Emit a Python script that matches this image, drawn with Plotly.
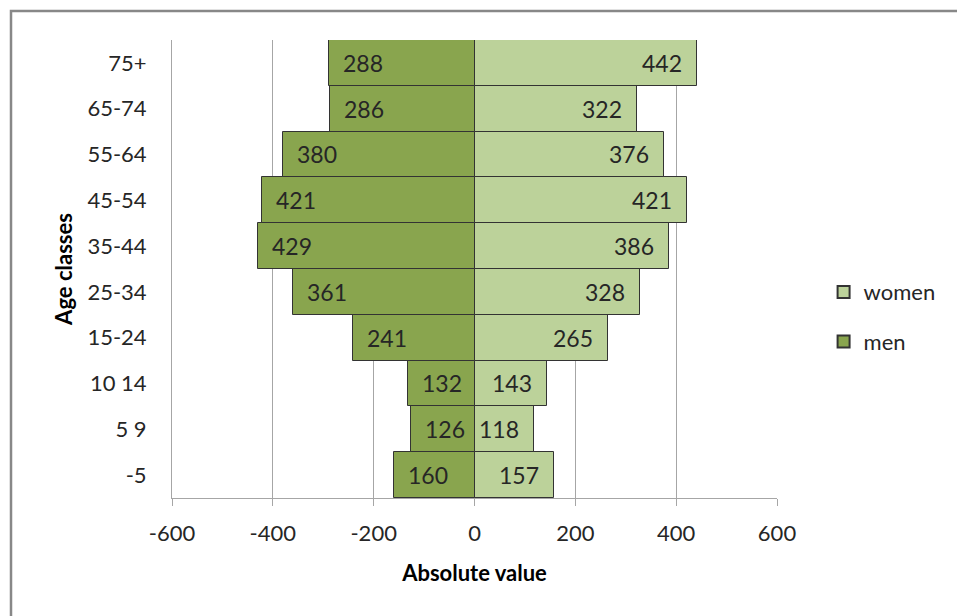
import plotly.graph_objects as go

categories = ["-5", "5 9", "10 14", "15-24", "25-34", "35-44", "45-54", "55-64", "65-74", "75+"]
men = [160, 126, 132, 241, 361, 429, 421, 380, 286, 288]
women = [157, 118, 143, 265, 328, 386, 421, 376, 322, 442]
tick_vals = [-600, -400, -200, 0, 200, 400, 600]
tick_text = ["-600", "-400", "-200", "0", "200", "400", "600"]

FONT = "Lato"
TXT = "#262626"

fig = go.Figure()
fig.add_trace(go.Bar(
    y=categories, x=women, orientation="h", name="women", legendgroup="w",
    marker=dict(color="#BCD29A", line=dict(color="#333333", width=1)),
    text=[str(v) for v in women], texttemplate="%{text}\u2002",
    textposition="inside", insidetextanchor="end",
    textfont=dict(family=FONT, size=23, color=TXT),
))
fig.add_trace(go.Bar(
    y=categories, x=[-v for v in men], orientation="h", name="men", legendgroup="m",
    marker=dict(color="#89A54E", line=dict(color="#333333", width=1)),
    text=[str(v) for v in men], texttemplate="\u2002%{text}",
    textposition="inside", insidetextanchor="end",
    textfont=dict(family=FONT, size=23, color=TXT),
))

fig.update_layout(
    width=957, height=616,
    margin=dict(l=172, r=180, t=40, b=118),
    paper_bgcolor="white", plot_bgcolor="white",
    barmode="relative", bargap=0,
    font=dict(family=FONT, size=22, color=TXT),
    uniformtext=dict(mode="show", minsize=10),
    xaxis=dict(
        range=[-600, 600], tickvals=tick_vals, ticktext=tick_text,
        showgrid=True, gridcolor="#A6A6A6", gridwidth=1,
        showline=True, linecolor="#A6A6A6", linewidth=1,
        ticks="outside", ticklen=7, tickcolor="#A6A6A6",
        zeroline=False, ticklabelstandoff=9,
        title=dict(text="<b>Absolute value</b>", font=dict(family=FONT, size=22, color="#000"), standoff=20),
        tickfont=dict(size=22),
    ),
    yaxis=dict(
        showline=True, linecolor="#A6A6A6", linewidth=1,
        ticks="", showgrid=False,
        title=dict(text="<b>Age classes</b>", font=dict(family=FONT, size=22, color="#000"), standoff=8),
        tickfont=dict(size=22), ticklabelstandoff=20,
    ),
    legend=dict(
        x=1.077, y=0.395, xanchor="left", yanchor="middle",
        traceorder="grouped", font=dict(size=22, color=TXT),
        tracegroupgap=18, itemsizing="constant",
    ),
    shapes=[dict(
        type="rect", xref="paper", yref="paper",
        x0=(11 - 172) / 605, x1=3, y0=-3, y1=(498 - 11) / 458,
        line=dict(color="#888888", width=2.5), fillcolor="rgba(0,0,0,0)", layer="below",
    )],
)

fig.write_html("out.html")
